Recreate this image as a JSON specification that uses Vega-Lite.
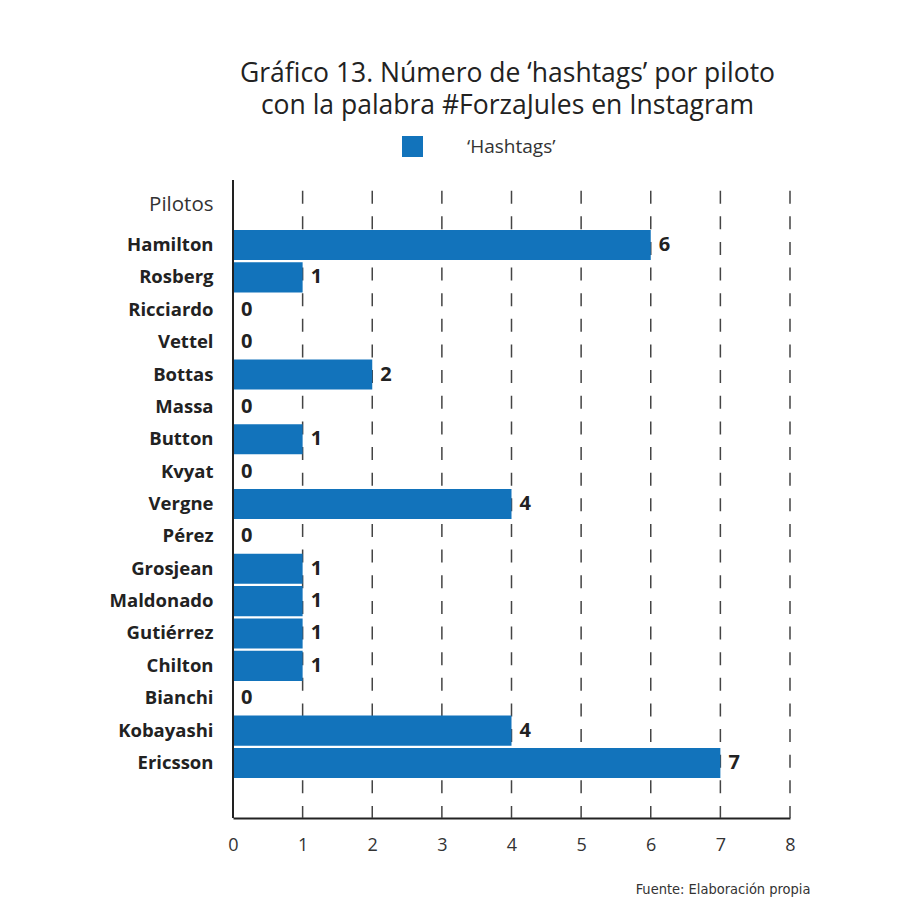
{
  "$schema": "https://vega.github.io/schema/vega-lite/v6.json",
  "autosize": {"type": "none"},
  "padding": {"left": 233, "top": 180, "right": 117, "bottom": 99},
  "width": 557,
  "height": 638,
  "background": "white",
  "title": {
    "text": ["Gráfico 13. Número de ‘hashtags’ por piloto", "con la palabra #ForzaJules en Instagram"],
    "font": "Open Sans",
    "fontSize": 26.5,
    "fontWeight": "normal",
    "color": "#222222",
    "lineHeight": 32,
    "anchor": "middle",
    "dx": -4,
    "offset": 17
  },
  "datasets": {
    "pilotos": [
      {"piloto": "Hamilton", "hashtags": 6},
      {"piloto": "Rosberg", "hashtags": 1},
      {"piloto": "Ricciardo", "hashtags": 0},
      {"piloto": "Vettel", "hashtags": 0},
      {"piloto": "Bottas", "hashtags": 2},
      {"piloto": "Massa", "hashtags": 0},
      {"piloto": "Button", "hashtags": 1},
      {"piloto": "Kvyat", "hashtags": 0},
      {"piloto": "Vergne", "hashtags": 4},
      {"piloto": "Pérez", "hashtags": 0},
      {"piloto": "Grosjean", "hashtags": 1},
      {"piloto": "Maldonado", "hashtags": 1},
      {"piloto": "Gutiérrez", "hashtags": 1},
      {"piloto": "Chilton", "hashtags": 1},
      {"piloto": "Bianchi", "hashtags": 0},
      {"piloto": "Kobayashi", "hashtags": 4},
      {"piloto": "Ericsson", "hashtags": 7}
    ],
    "rejilla": [
      {"hashtags": 1}, {"hashtags": 2}, {"hashtags": 3}, {"hashtags": 4},
      {"hashtags": 5}, {"hashtags": 6}, {"hashtags": 7}, {"hashtags": 8}
    ],
    "eje": [{"hashtags": 0}]
  },
  "layer": [
    {
      "data": {"name": "rejilla"},
      "mark": {"type": "rule", "stroke": "#444444", "strokeWidth": 1.5, "strokeDash": [13, 12.64], "strokeDashOffset": 15},
      "encoding": {
        "x": {"field": "hashtags", "type": "quantitative"}
      }
    },
    {
      "data": {"name": "pilotos"},
      "mark": {"type": "bar"},
      "encoding": {
        "y": {
          "field": "piloto",
          "type": "nominal",
          "sort": null,
          "scale": {"paddingInner": 0.07, "paddingOuter": 0, "range": [50, 598]},
          "axis": {
            "title": "Pilotos",
            "titleAngle": 0,
            "titleAlign": "right",
            "titleBaseline": "alphabetic",
            "titleX": -20,
            "titleY": 30,
            "titleFont": "Open Sans",
            "titleFontSize": 20.5,
            "titleFontWeight": "normal",
            "titleColor": "#333333",
            "labelFont": "Open Sans",
            "labelFontSize": 18.5,
            "labelFontWeight": "bold",
            "labelColor": "#222222",
            "labelPadding": 20,
            "ticks": false,
            "grid": false,
            "domain": false
          }
        },
        "x": {
          "field": "hashtags",
          "type": "quantitative",
          "scale": {"domain": [0, 8], "nice": false},
          "axis": {
            "values": [0, 1, 2, 3, 4, 5, 6, 7, 8],
            "format": "d",
            "title": "Fuente: Elaboración propia",
            "titleAlign": "right",
            "titleBaseline": "alphabetic",
            "titleX": 577,
            "titleY": 75,
            "titleFont": "DejaVu Sans Condensed",
            "titleFontSize": 14.5,
            "titleFontWeight": "normal",
            "titleColor": "#333333",
            "labelFont": "Open Sans",
            "labelFontSize": 18,
            "labelColor": "#333333",
            "labelPadding": 18,
            "labelFlush": false,
            "ticks": false,
            "grid": false,
            "domainColor": "#222222",
            "domainWidth": 2
          }
        },
        "color": {
          "datum": "‘Hashtags’",
          "scale": {"range": ["#1273bb"]},
          "legend": {
            "title": null,
            "orient": "none",
            "legendX": 169,
            "legendY": -44,
            "symbolType": "square",
            "symbolSize": 441,
            "symbolStrokeWidth": 0,
            "labelOffset": 44,
            "labelFont": "Open Sans",
            "labelFontSize": 19,
            "labelColor": "#333333"
          }
        }
      }
    },
    {
      "data": {"name": "pilotos"},
      "mark": {
        "type": "text",
        "align": "left",
        "baseline": "middle",
        "dx": 8,
        "font": "Open Sans",
        "fontSize": 20,
        "fontWeight": "bold",
        "color": "#222222"
      },
      "encoding": {
        "y": {"field": "piloto", "type": "nominal", "sort": null},
        "x": {"field": "hashtags", "type": "quantitative"},
        "text": {"field": "hashtags", "type": "quantitative", "format": "d"}
      }
    },
    {
      "data": {"name": "eje"},
      "mark": {"type": "rule", "stroke": "#222222", "strokeWidth": 2},
      "encoding": {
        "x": {"field": "hashtags", "type": "quantitative"}
      }
    }
  ],
  "config": {"view": {"stroke": null}}
}
